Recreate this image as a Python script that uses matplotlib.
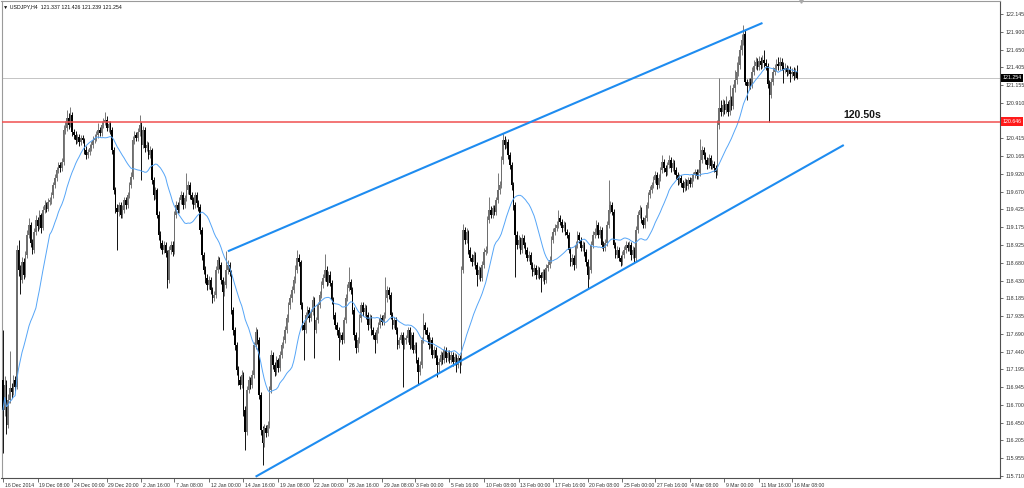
import numpy as np
import pandas as pd
import matplotlib
matplotlib.use('Agg')
import matplotlib.pyplot as plt
from matplotlib.transforms import blended_transform_factory, ScaledTranslation

# USDJPY H4 candles (open = previous close)
symbol = 'USDJPY,H4'
header_values = ['121.337', '121.426', '121.239', '121.254']
first_open = 117.05

closes = [
    116.63, 116.98, 116.42, 116.77, 116.94, 116.88, 117.05, 116.95, 118.86, 118.58,
    118.44, 118.69, 118.51, 118.79, 119.07, 119.21, 118.96, 118.86, 119.11, 119.28,
    119.19, 119.35, 119.16, 119.42, 119.48, 119.43, 119.53, 119.55, 119.62, 119.76,
    119.86, 119.97, 120.04, 120.00, 120.08, 120.53, 120.56, 120.70, 120.60, 120.74,
    120.50, 120.46, 120.39, 120.43, 120.36, 120.42, 120.39, 120.25, 120.18, 120.22,
    120.28, 120.32, 120.39, 120.42, 120.46, 120.53, 120.49, 120.60, 120.64, 120.67,
    120.56, 120.61, 120.53, 120.25, 119.69, 119.44, 119.39, 119.48, 119.35, 119.42,
    119.55, 119.48, 119.62, 119.76, 119.87, 120.39, 120.46, 120.42, 120.50, 120.60,
    120.32, 120.53, 120.28, 120.32, 120.18, 120.25, 119.83, 119.62, 119.69, 119.35,
    119.07, 118.96, 118.86, 118.93, 118.82, 118.44, 118.86, 118.93, 118.83, 119.35,
    119.48, 119.42, 119.55, 119.62, 119.48, 119.58, 119.69, 119.76, 119.62, 119.55,
    119.48, 119.62, 119.51, 119.46, 119.14, 118.79, 118.58, 118.47, 118.37, 118.44,
    118.30, 118.19, 118.23, 118.58, 118.72, 118.65, 118.44, 118.27, 118.37, 118.58,
    118.65, 118.55, 118.02, 117.74, 117.53, 117.19, 117.05, 116.98, 117.12, 116.63,
    116.32, 116.91, 117.05, 116.98, 117.12, 117.53, 117.72, 117.60, 116.84, 116.35,
    116.17, 116.38, 116.31, 116.42, 116.91, 117.40, 117.26, 117.16, 117.33, 117.21,
    117.40, 117.53, 117.60, 117.74, 117.91, 118.09, 118.19, 118.30, 118.44, 118.58,
    118.75, 118.69, 118.09, 117.81, 117.74, 117.95, 118.02, 117.91, 117.99, 118.16,
    117.74, 117.88, 118.09, 118.23, 118.37, 118.47, 118.58, 118.41, 118.51, 118.40,
    118.16, 117.95, 117.81, 117.74, 117.63, 117.67, 117.60, 117.88, 118.19, 118.33,
    118.41, 118.30, 118.02, 117.67, 117.49, 117.60, 117.91, 118.09, 117.99, 118.05,
    117.95, 117.81, 117.91, 117.74, 117.67, 117.60, 117.74, 117.81, 117.91, 117.86,
    117.95, 118.19, 118.30, 118.23, 117.95, 117.81, 117.88, 117.74, 117.53, 117.60,
    117.67, 117.53, 117.60, 117.63, 117.74, 117.53, 117.67, 117.47, 117.53, 117.33,
    117.16, 117.26, 117.60, 117.81, 117.74, 117.67, 117.53, 117.60, 117.40, 117.47,
    117.35, 117.26, 117.30, 117.40, 117.33, 117.47, 117.35, 117.42, 117.33, 117.40,
    117.30, 117.37, 117.26, 117.35, 117.30, 118.58, 119.14, 119.00, 119.11, 118.86,
    118.75, 118.69, 118.79, 118.65, 118.51, 118.58, 118.47, 118.65, 118.83, 118.86,
    119.28, 119.42, 119.35, 119.44, 119.39, 119.55, 119.69, 119.76, 120.11, 120.39,
    120.32, 120.36, 120.18, 120.04, 119.76, 119.48, 119.07, 118.93, 119.00, 118.86,
    119.03, 118.93, 118.86, 118.75, 118.79, 118.65, 118.55, 118.61, 118.51, 118.58,
    118.51, 118.47, 118.55, 118.44, 118.61, 118.65, 118.72, 119.00, 119.11, 119.16,
    119.21, 119.30, 119.25, 119.16, 119.21, 119.11, 119.07, 118.86, 118.69, 118.75,
    118.65, 118.93, 119.07, 119.00, 118.89, 118.93, 118.83, 118.69, 118.51, 118.58,
    118.93, 119.07, 119.11, 119.21, 119.07, 119.14, 118.93, 118.89, 118.96, 119.21,
    119.42, 119.48, 119.39, 118.93, 118.79, 118.86, 118.75, 118.69, 118.79, 118.86,
    118.93, 118.89, 118.93, 118.79, 118.86, 118.75, 119.14, 119.35, 119.42, 119.28,
    119.21, 119.30, 119.48, 119.62, 119.69, 119.76, 119.83, 119.90, 119.76, 119.86,
    119.97, 120.08, 120.00, 119.94, 120.04, 120.11, 120.00, 120.07, 119.97, 119.90,
    119.83, 119.86, 119.79, 119.72, 119.81, 119.75, 119.83, 119.78, 119.86, 119.90,
    119.94, 119.89, 119.93, 120.11, 120.25, 120.18, 120.11, 120.04, 120.14, 120.03,
    120.06, 120.00, 119.94, 120.60, 120.84, 120.78, 120.88, 120.81, 120.89, 120.78,
    120.95, 120.86, 121.11, 121.23, 121.34, 121.43, 121.64, 121.78, 121.87, 121.20,
    121.14, 121.20, 121.16, 121.34, 121.42, 121.48, 121.41, 121.49, 121.43, 121.50,
    121.46, 121.42, 121.17, 121.02, 121.20, 121.34, 121.39, 121.45, 121.42, 121.48,
    121.42, 121.37, 121.39, 121.34, 121.37, 121.31, 121.34, 121.28, 121.34, 121.25,
]

highs = [
    117.74, 117.10, 117.05, 116.85, 117.45, 117.00, 117.12, 117.10, 118.93, 119.00,
    118.65, 118.76, 118.75, 118.84, 119.13, 119.30, 119.25, 119.01, 119.16, 119.34,
    119.32, 119.41, 119.38, 119.47, 119.55, 119.52, 119.58, 119.60, 119.67, 119.81,
    119.91, 120.02, 120.09, 120.08, 120.14, 120.60, 120.65, 120.81, 120.76, 120.85,
    120.78, 120.55, 120.52, 120.48, 120.47, 120.46, 120.46, 120.42, 120.30, 120.27,
    120.33, 120.38, 120.44, 120.48, 120.52, 120.62, 120.57, 120.66, 120.70, 120.78,
    120.72, 120.66, 120.65, 120.57, 120.29, 119.74, 119.50, 119.53, 119.52, 119.48,
    119.60, 119.59, 119.67, 119.81, 119.95, 120.45, 120.52, 120.50, 120.56, 120.74,
    120.64, 120.58, 120.57, 120.38, 120.36, 120.30, 120.28, 119.87, 119.74, 119.72,
    119.40, 119.12, 119.00, 118.99, 118.97, 118.86, 118.92, 118.99, 118.98, 119.40,
    119.54, 119.53, 119.60, 119.68, 119.66, 119.63, 119.93, 119.82, 119.80, 119.66,
    119.60, 119.67, 119.66, 119.56, 119.50, 119.18, 118.83, 118.63, 118.52, 118.50,
    118.48, 118.34, 118.29, 118.63, 118.78, 118.76, 118.69, 118.48, 118.42, 118.85,
    118.72, 118.69, 118.58, 118.06, 117.78, 117.57, 117.24, 117.10, 117.18, 117.16,
    116.68, 116.96, 117.10, 117.09, 117.18, 117.58, 117.78, 117.76, 117.64, 116.88,
    116.40, 116.44, 116.42, 116.48, 116.96, 117.46, 117.44, 117.30, 117.38, 117.36,
    117.45, 117.58, 117.66, 117.80, 117.96, 118.14, 118.25, 118.36, 118.50, 118.65,
    118.86, 118.80, 118.72, 118.13, 117.86, 118.00, 118.08, 118.06, 118.04, 118.22,
    118.20, 117.93, 118.14, 118.28, 118.42, 118.52, 118.80, 118.63, 118.56, 118.56,
    118.44, 118.20, 118.00, 117.86, 117.78, 117.72, 117.71, 117.93, 118.24, 118.38,
    118.62, 118.46, 118.34, 118.06, 117.72, 117.65, 117.96, 118.14, 118.13, 118.10,
    118.09, 117.99, 117.96, 117.95, 117.78, 117.71, 117.79, 117.86, 117.96, 117.95,
    118.00, 118.48, 118.36, 118.34, 118.27, 117.99, 117.93, 117.92, 117.78, 117.65,
    117.72, 117.71, 117.65, 117.68, 117.79, 117.78, 117.72, 117.71, 117.58, 117.57,
    117.37, 117.31, 117.65, 117.98, 117.86, 117.79, 117.71, 117.65, 117.64, 117.52,
    117.51, 117.39, 117.35, 117.45, 117.44, 117.52, 117.50, 117.47, 117.46, 117.45,
    117.44, 117.42, 117.41, 117.40, 117.39, 118.63, 119.22, 119.18, 119.16, 119.14,
    118.90, 118.80, 118.84, 118.83, 118.69, 118.63, 118.62, 118.70, 118.88, 118.92,
    119.33, 119.59, 119.47, 119.49, 119.49, 119.60, 119.93, 119.82, 120.17, 120.49,
    120.44, 120.41, 120.40, 120.22, 120.08, 119.80, 119.52, 119.12, 119.06, 119.04,
    119.08, 119.07, 118.97, 118.90, 118.84, 118.83, 118.69, 118.66, 118.65, 118.63,
    118.62, 118.55, 118.60, 118.59, 118.66, 118.70, 118.78, 119.05, 119.17, 119.22,
    119.26, 119.42, 119.35, 119.29, 119.26, 119.25, 119.15, 119.11, 118.90, 118.80,
    118.79, 118.98, 119.12, 119.11, 119.04, 118.98, 118.97, 118.87, 118.73, 118.63,
    118.98, 119.12, 119.17, 119.27, 119.25, 119.19, 119.18, 118.98, 119.01, 119.26,
    119.83, 119.54, 119.52, 119.43, 118.97, 118.91, 118.90, 118.79, 118.84, 118.91,
    118.98, 118.97, 118.98, 118.97, 118.91, 118.90, 119.19, 119.40, 119.48, 119.46,
    119.32, 119.35, 119.53, 119.67, 119.75, 119.81, 119.89, 119.96, 119.94, 119.91,
    120.02, 120.18, 120.12, 120.04, 120.09, 120.18, 120.15, 120.12, 120.11, 120.01,
    119.94, 119.91, 119.90, 119.83, 119.86, 119.85, 119.88, 119.87, 119.91, 119.95,
    119.99, 119.98, 119.98, 120.40, 120.31, 120.29, 120.22, 120.15, 120.19, 120.18,
    120.11, 120.10, 120.04, 120.67, 121.25, 120.95, 120.96, 120.95, 121.00, 120.94,
    121.16, 121.00, 121.17, 121.37, 121.48, 121.56, 121.71, 121.86, 121.99, 121.92,
    121.24, 121.25, 121.26, 121.40, 121.50, 121.55, 121.53, 121.56, 121.54, 121.58,
    121.64, 121.52, 121.46, 121.22, 121.26, 121.40, 121.45, 121.52, 121.55, 121.55,
    121.53, 121.47, 121.46, 121.44, 121.42, 121.42, 121.39, 121.40, 121.39, 121.43,
]

lows = [
    116.03, 116.55, 116.30, 116.38, 116.72, 116.80, 116.84, 116.90, 116.92, 118.50,
    118.25, 118.40, 118.46, 118.48, 118.74, 119.02, 118.90, 118.80, 118.82, 119.07,
    119.12, 119.15, 119.10, 119.13, 119.38, 119.39, 119.40, 119.48, 119.50, 119.58,
    119.72, 119.82, 119.93, 119.95, 119.96, 120.04, 120.48, 120.52, 120.55, 120.57,
    120.44, 120.40, 120.34, 120.35, 120.31, 120.32, 120.35, 120.20, 120.12, 120.14,
    120.18, 120.24, 120.28, 120.35, 120.38, 120.42, 120.44, 120.45, 120.56, 120.60,
    120.52, 120.50, 120.48, 120.20, 119.64, 119.38, 118.86, 119.33, 119.30, 119.30,
    119.38, 119.43, 119.44, 119.58, 119.72, 119.84, 120.33, 120.37, 120.38, 120.45,
    119.83, 120.28, 120.22, 120.24, 120.12, 120.14, 119.78, 119.55, 119.57, 119.30,
    119.00, 118.88, 118.80, 118.82, 118.76, 118.33, 118.40, 118.80, 118.78, 118.80,
    119.30, 119.37, 119.38, 119.50, 119.43, 119.44, 119.54, 119.64, 119.57, 119.50,
    119.43, 119.44, 119.46, 119.40, 119.08, 118.72, 118.52, 118.40, 118.30, 118.32,
    118.24, 118.12, 118.15, 118.19, 118.54, 118.60, 118.38, 117.74, 118.22, 118.33,
    118.53, 118.50, 117.96, 117.68, 117.46, 117.12, 116.98, 116.92, 116.94, 116.55,
    116.07, 116.28, 116.86, 116.92, 116.94, 117.08, 117.48, 117.55, 116.78, 116.28,
    115.86, 116.12, 116.25, 116.27, 116.38, 116.86, 117.20, 117.10, 117.12, 117.16,
    117.17, 117.36, 117.49, 117.56, 117.70, 117.86, 118.04, 118.14, 118.26, 118.40,
    118.54, 118.64, 118.03, 117.74, 117.33, 117.70, 117.90, 117.86, 117.87, 117.95,
    117.36, 117.70, 117.84, 118.05, 118.19, 118.33, 118.43, 118.36, 118.37, 118.35,
    118.10, 117.90, 117.76, 117.68, 117.33, 117.58, 117.55, 117.56, 117.84, 118.15,
    118.29, 118.25, 117.96, 117.60, 117.42, 117.44, 117.56, 117.86, 117.94, 117.94,
    117.90, 117.75, 117.77, 117.68, 117.62, 117.42, 117.56, 117.70, 117.77, 117.81,
    117.82, 117.91, 118.14, 118.18, 117.90, 117.76, 117.77, 117.69, 117.48, 117.49,
    117.56, 116.95, 117.48, 117.55, 117.58, 117.48, 117.49, 117.42, 117.43, 117.28,
    116.99, 117.12, 117.22, 117.56, 117.69, 117.62, 117.48, 117.49, 117.35, 117.36,
    117.30, 117.09, 117.16, 117.25, 117.27, 117.29, 117.30, 117.31, 117.28, 117.29,
    117.24, 117.26, 117.16, 117.22, 117.14, 117.26, 118.54, 118.94, 118.96, 118.80,
    118.70, 118.63, 118.65, 118.60, 118.36, 118.46, 118.42, 118.43, 118.61, 118.79,
    118.82, 119.24, 119.30, 119.31, 119.34, 119.35, 119.51, 119.64, 119.72, 120.06,
    120.27, 120.28, 120.13, 119.99, 119.70, 119.42, 118.48, 118.87, 118.88, 118.80,
    118.82, 118.88, 118.80, 118.70, 118.71, 118.60, 118.50, 118.51, 118.46, 118.47,
    118.46, 118.27, 118.43, 118.39, 118.40, 118.57, 118.61, 118.68, 118.96, 119.07,
    119.12, 119.17, 119.20, 119.11, 119.12, 119.06, 119.02, 118.81, 118.64, 118.64,
    118.58, 118.61, 118.89, 118.95, 118.84, 118.85, 118.78, 118.64, 118.33, 118.46,
    118.54, 118.89, 119.02, 119.07, 119.02, 119.03, 118.88, 118.84, 118.85, 118.92,
    119.17, 119.38, 119.34, 118.88, 118.74, 118.75, 118.70, 118.64, 118.65, 118.75,
    118.82, 118.84, 118.85, 118.72, 118.74, 118.68, 118.71, 119.10, 119.30, 119.23,
    119.16, 119.17, 119.26, 119.44, 119.58, 119.65, 119.72, 119.79, 119.71, 119.72,
    119.82, 119.93, 119.95, 119.89, 119.90, 120.00, 119.95, 119.96, 119.92, 119.85,
    119.77, 119.78, 119.73, 119.66, 119.68, 119.70, 119.71, 119.73, 119.74, 119.82,
    119.86, 119.84, 119.85, 119.89, 120.07, 120.13, 120.06, 119.99, 120.00, 119.98,
    119.99, 119.95, 119.86, 119.90, 120.55, 120.72, 120.73, 120.75, 120.76, 120.72,
    120.74, 120.81, 120.82, 121.06, 121.17, 121.28, 121.38, 121.58, 121.72, 121.16,
    120.95, 121.08, 121.10, 121.12, 121.30, 121.38, 121.36, 121.37, 121.38, 121.39,
    121.41, 121.36, 121.11, 120.64, 120.97, 121.15, 121.30, 121.35, 121.36, 121.37,
    121.36, 121.19, 121.32, 121.28, 121.30, 121.20, 121.27, 121.23, 121.25, 121.24,
]

# time scale: bar index of each date label
date_bars = [0, 20, 40, 60, 80, 99, 119, 139, 159, 179, 199, 219,
             238, 258, 278, 298, 318, 338, 358, 377, 397, 417, 437, 456]
date_labels = ['16 Dec 2014', '19 Dec 08:00', '24 Dec 00:00', '29 Dec 20:00',
               '2 Jan 16:00', '7 Jan 08:00', '12 Jan 00:00', '14 Jan 16:00',
               '19 Jan 08:00', '22 Jan 00:00', '26 Jan 16:00', '29 Jan 08:00',
               '3 Feb 00:00', '5 Feb 16:00', '10 Feb 08:00', '13 Feb 00:00',
               '17 Feb 16:00', '20 Feb 08:00', '25 Feb 00:00', '27 Feb 16:00',
               '4 Mar 08:00', '9 Mar 00:00', '11 Mar 16:00', '16 Mar 08:00']

price_labels = ['122.145', '121.900', '121.650', '121.405', '121.155', '120.910',
                '120.415', '120.165', '119.920', '119.670', '119.425', '119.175',
                '118.925', '118.680', '118.430', '118.185', '117.935', '117.690',
                '117.440', '117.195', '116.945', '116.700', '116.450', '116.205',
                '115.955', '115.710']

resistance = 120.646
resistance_text = '120.50s'
last_price = 121.254
ma_period = 20

# channel lines: (bar, price) anchors
upper_channel = [(130, 118.84), (439, 122.02)]
lower_channel = [(146, 115.70), (486, 120.32)]

plt.rcParams['font.family'] = ['Liberation Sans', 'DejaVu Sans']

c = np.array(closes)
h = np.array(highs)
l = np.array(lows)
o = np.r_[first_open, c[:-1]]
h = np.maximum(h, np.maximum(o, c))
l = np.minimum(l, np.minimum(o, c))
idx = np.arange(len(c))
up = c >= o

fig = plt.figure(figsize=(10.24, 4.88), dpi=100)
ax = fig.add_axes([1.5 / 1024, 10 / 488, 998.5 / 1024, 477 / 488])

bull = '#6e6e6e'
bear = '#000000'

# current price line under the candles
ax.axhline(last_price, color='#c4c4c4', lw=0.7, zorder=1)

# wicks and bodies
ax.vlines(idx[up], l[up], h[up], color=bull, lw=0.65, zorder=2)
ax.vlines(idx[~up], l[~up], h[~up], color=bear, lw=0.65, zorder=2)
body = np.maximum(np.abs(c - o), 0.01)
ax.bar(idx, body, bottom=np.minimum(o, c), width=0.85,
       color=np.where(up, bull, bear), linewidth=0, zorder=3)

# moving average
ma = pd.Series(c).rolling(ma_period, min_periods=1).mean()
ax.plot(idx, ma, color='#55a5f7', lw=0.7, zorder=4)

# resistance and channel
ax.axhline(resistance, color='#f05050', lw=1.1, zorder=5)
for line in (upper_channel, lower_channel):
    xs, ys = zip(*line)
    ax.plot(xs, ys, color='#1e8cf0', lw=1.5, solid_capstyle='butt', zorder=6)

end_bar = lower_channel[1][0]
ax.text(end_bar, resistance + 0.02, resistance_text, fontsize=7.6,
        fontweight='bold', color='#161616', ha='left', va='bottom', zorder=7)

# axes limits: bar spacing 1.73 px
ax.set_xlim(-0.87, 576.3)
ax.set_ylim(115.682, 122.326)

# right price scale
ax.yaxis.tick_right()
ax.set_yticks([float(p) for p in price_labels])
ax.set_yticklabels(price_labels)
ax.tick_params(axis='y', direction='out', length=2.5, width=0.5, colors='#333333',
               labelsize=3.8, pad=1.2)

# bottom time scale
ax.set_xticks(date_bars)
ax.set_xticklabels(date_labels, ha='left')
ax.tick_params(axis='x', direction='out', length=3, width=0.5, colors='#333333',
               labelsize=3.7, pad=0.8)
shift = ScaledTranslation(1.2 / 72, 0, fig.dpi_scale_trans)
for lbl in ax.get_xticklabels():
    lbl.set_transform(lbl.get_transform() + shift)

for side in ('left', 'top'):
    ax.spines[side].set_color('#9a9a9a')
    ax.spines[side].set_linewidth(0.8)
for side in ('right', 'bottom'):
    ax.spines[side].set_color('#505050')
    ax.spines[side].set_linewidth(0.8)

# price boxes on the scale
trans = blended_transform_factory(ax.transAxes, ax.transData)
ax.text(1.0025, last_price, f'{last_price:.3f}', transform=trans, fontsize=3.8,
        color='white', va='center', ha='left', clip_on=False, zorder=8,
        bbox=dict(facecolor='black', edgecolor='none', pad=1.3))
ax.text(1.0025, resistance, f'{resistance:.3f}', transform=trans, fontsize=3.8,
        color='white', va='center', ha='left', clip_on=False, zorder=8,
        bbox=dict(facecolor='#ff1a1a', edgecolor='none', pad=1.3))

# chart shift marker and header
ax.plot([len(c) + 1], [1.0], marker='v', ms=2.5, color='#a8a8a8',
        transform=blended_transform_factory(ax.transData, ax.transAxes),
        clip_on=False, zorder=8)
fig.text(3 / 1024, 1 - 7 / 488, '\u25bc ' + symbol + '  ' + ' '.join(header_values),
         fontsize=3.8, color='#111111', va='center', ha='left')

fig.savefig('out.png', dpi=100)
